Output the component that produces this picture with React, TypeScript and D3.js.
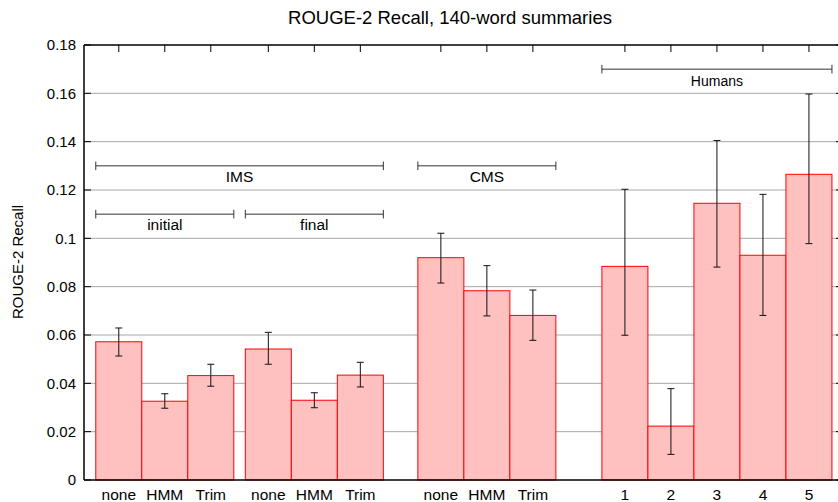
import React from "react";
import * as d3 from "d3";

const categories = ["none", "HMM", "Trim", "none", "HMM", "Trim", "none", "HMM", "Trim", "1", "2", "3", "4", "5"];
const groupOf = [0, 0, 0, 1, 1, 1, 2, 2, 2, 3, 3, 3, 3, 3];
const recall = [0.0572, 0.0326, 0.0432, 0.0542, 0.0330, 0.0434, 0.0920, 0.0783, 0.0681, 0.0884, 0.0223, 0.1145, 0.0930, 0.1265];
const errLow = [0.0513, 0.0297, 0.0388, 0.0479, 0.0299, 0.0385, 0.0815, 0.0679, 0.0578, 0.0599, 0.0106, 0.0881, 0.0681, 0.0978];
const errHigh = [0.0629, 0.0357, 0.0479, 0.0611, 0.0361, 0.0487, 0.1021, 0.0887, 0.0786, 0.1203, 0.0378, 0.1405, 0.1182, 0.1597];
const yTicks = [0, 0.02, 0.04, 0.06, 0.08, 0.1, 0.12, 0.14, 0.16, 0.18];
const bracketLabels = ["IMS", "initial", "final", "CMS", "Humans"];
const bracketFrom = [0, 0, 3, 6, 9];
const bracketTo = [5, 2, 5, 8, 13];
const bracketLevel = [0.13, 0.11, 0.11, 0.13, 0.17];

const W = 838;
const H = 502;
const FONT = "'Liberation Sans', Arial, Helvetica, sans-serif";
// group starting offsets (in bar units) for the clustered histogram layout
const groupStart = [0, 3.25, 7, 11];

export default function App() {
  const left = 84;
  const right = 843;
  const top = 45;
  const bottom = 480;

  const slot = categories.map((_, i) => {
    const g = groupOf[i];
    const firstIdx = groupOf.indexOf(g);
    return groupStart[g] + (i - firstIdx);
  });

  const x = d3.scaleLinear().domain([-0.756, 15.74]).range([left, right]);
  const y = d3.scaleLinear().domain([0, 0.18]).range([bottom, top]);
  const bw = x(0.5) - x(0);

  return (
    <svg
      width={W}
      height={H}
      style={{ position: "absolute", left: 0, top: 0, background: "#fff" }}
      fontFamily={FONT}
    >
      <rect x={0} y={0} width={W} height={H} fill="#fff" />
      {/* grid */}
      {yTicks.slice(1, -1).map((t) => (
        <line key={"g" + t} x1={left} x2={right} y1={y(t)} y2={y(t)} stroke="#a8a8a8" strokeWidth={1} />
      ))}
      {/* y ticks (left and right, inward) */}
      {yTicks.map((t) => (
        <g key={"t" + t}>
          <line x1={left} x2={left + 7} y1={y(t)} y2={y(t)} stroke="#000" strokeWidth={1} />
          <line x1={right - 7} x2={right} y1={y(t)} y2={y(t)} stroke="#000" strokeWidth={1} />
          <text x={76} y={y(t)} dy="0.36em" textAnchor="end" fontSize={15} fill="#000">
            {d3.format("")(+t.toFixed(2))}
          </text>
        </g>
      ))}
      {/* top ticks at bar centres */}
      {slot.map((s, i) => (
        <line key={"tt" + i} x1={x(s)} x2={x(s)} y1={top} y2={top + 7} stroke="#000" strokeWidth={1} />
      ))}
      {/* bars */}
      {recall.map((v, i) => (
        <rect
          key={"b" + i}
          x={x(slot[i]) - bw}
          y={y(v)}
          width={2 * bw}
          height={y(0) - y(v)}
          fill="#ffc0c0"
          stroke="#ff0000"
          strokeWidth={1}
        />
      ))}
      {/* error bars */}
      {recall.map((_, i) => {
        const cx = x(slot[i]);
        return (
          <g key={"e" + i} stroke="#111" strokeWidth={1}>
            <line x1={cx} x2={cx} y1={y(errLow[i])} y2={y(errHigh[i])} />
            <line x1={cx - 3.5} x2={cx + 3.5} y1={y(errLow[i])} y2={y(errLow[i])} />
            <line x1={cx - 3.5} x2={cx + 3.5} y1={y(errHigh[i])} y2={y(errHigh[i])} />
          </g>
        );
      })}
      {/* brackets */}
      {bracketLabels.map((lab, k) => {
        const x1 = x(slot[bracketFrom[k]] - 0.5);
        const x2 = x(slot[bracketTo[k]] + 0.5);
        const yy = y(bracketLevel[k]);
        const fs = lab === "Humans" ? 14 : 15.5;
        return (
          <g key={"br" + k}>
            <g stroke="#333" strokeWidth={1}>
              <line x1={x1} x2={x2} y1={yy} y2={yy} />
              <line x1={x1} x2={x1} y1={yy - 4.3} y2={yy + 4.3} />
              <line x1={x2} x2={x2} y1={yy - 4.3} y2={yy + 4.3} />
            </g>
            <text x={(x1 + x2) / 2} y={yy + (lab === "Humans" ? 17 : 16)} textAnchor="middle" fontSize={fs} fill="#000">
              {lab}
            </text>
          </g>
        );
      })}
      {/* axes */}
      <line x1={left} x2={right} y1={top} y2={top} stroke="#000" strokeWidth={1.5} />
      <line x1={left} x2={right} y1={bottom} y2={bottom} stroke="#000" strokeWidth={1.5} />
      <line x1={left} x2={left} y1={top} y2={bottom} stroke="#000" strokeWidth={1.5} />
      {/* category labels */}
      {categories.map((c, i) => (
        <text key={"c" + i} x={x(slot[i])} y={499.5} textAnchor="middle" fontSize={15.5} fill="#000">
          {c}
        </text>
      ))}
      {/* title & axis label */}
      <text x={450} y={24} textAnchor="middle" fontSize={18.5} fill="#000">
        ROUGE-2 Recall, 140-word summaries
      </text>
      <text
        transform={`translate(23,262) rotate(-90)`}
        textAnchor="middle"
        fontSize={15}
        fill="#000"
      >
        ROUGE-2 Recall
      </text>
    </svg>
  );
}
